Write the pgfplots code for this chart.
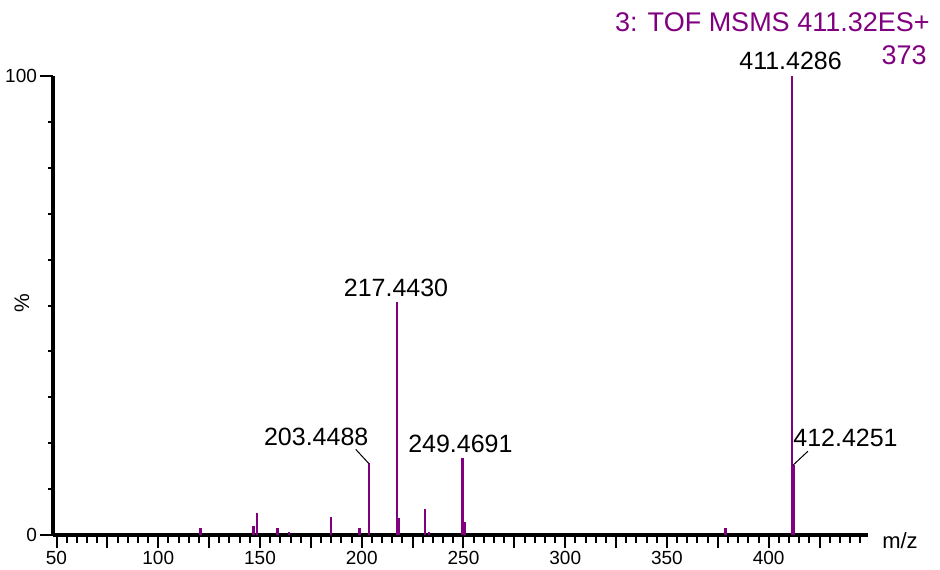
\documentclass[border=0pt]{standalone}
\usepackage{pgfplots}
\pgfplotsset{compat=1.18}
\usepackage{fontspec}
\setmainfont{Liberation Sans}
\definecolor{specpurple}{RGB}{128,0,128}

% MS/MS spectrum: m/z versus relative intensity (%)
\pgfplotstableread{
mz        int
120.7     1.5
146.8     2.0
148.5     4.7
158.6     1.5
164.4     0.7
184.9     3.9
198.9     1.5
203.4488  15.6
217.4430  50.8
218.2     3.6
231.2     5.6
233.0     0.7
249.4691  16.7
250.5     2.8
378.8     1.5
411.4286  100
412.4251  15.2
}\spectrum

\begin{document}
\begin{tikzpicture}[x=1pt,y=1pt]
\useasboundingbox (0,0) rectangle (470,284.5);
\begin{axis}[
  at={(26.5pt,17pt)}, anchor=south west,
  scale only axis, width=407.5pt, height=229.5pt,
  xmin=48.28, xmax=448.8, ymin=0, ymax=100,
  axis x line=bottom, axis y line=left,
  axis line style={-, line width=1.6pt, black},
  tick align=outside,
  tick style={black, line width=1pt},
  major tick length=6.5pt, minor tick length=4pt,
  xtick={50,100,...,400},
  minor xtick={55,60,...,445},
  extra x ticks={75,125,...,425},
  extra x tick labels={},
  ytick={0,100},
  extra y ticks={10,20,...,90},
  extra y tick labels={},
  extra y tick style={major tick length=2.5pt},
  tick label style={font=\fontsize{9.5}{11}\selectfont},
  xticklabel style={yshift=2pt},
  yticklabel style={xshift=2pt},
  /pgf/number format/assume math mode=true,
  clip=false,
]
\addplot[ycomb, mark=none, color=specpurple, line width=1.2pt] table[x=mz, y=int] {\spectrum};

\node[anchor=base, yshift=3.5pt, xshift=-0.7pt, font=\fontsize{12.5}{14}\selectfont]
  at (axis cs:411.4286,100) {411.4286};
\node[anchor=base, yshift=2.9pt, xshift=-0.6pt, font=\fontsize{12.5}{14}\selectfont]
  at (axis cs:217.4430,50.8) {217.4430};
\node[anchor=base, yshift=2.8pt, xshift=-1pt, font=\fontsize{12.5}{14}\selectfont]
  at (axis cs:249.4691,16.7) {249.4691};
\node[anchor=base east, yshift=9.2pt, xshift=0pt, inner sep=0pt, font=\fontsize{12.5}{14}\selectfont]
  at (axis cs:203.4488,15.6) {203.4488};
\draw[black, line width=0.5pt] (axis cs:203.4488,15.6) -- ++(-6.5pt,7pt);
\node[anchor=base west, yshift=9.5pt, xshift=-0.5pt, inner sep=0pt, font=\fontsize{12.5}{14}\selectfont]
  at (axis cs:412.4251,15.2) {412.4251};
\draw[black, line width=0.5pt] (axis cs:411.9,15.2) -- ++(7.5pt,7pt);
\end{axis}

\node[anchor=base east, text=specpurple, font=\fontsize{13.5}{15}\selectfont, inner sep=0pt]
  at (465,268.5) {3: TOF MSMS 411.32ES+};
\node[anchor=base east, text=specpurple, font=\fontsize{13.5}{15}\selectfont, inner sep=0pt]
  at (463.5,252) {373};
\node[font=\fontsize{11}{13}\selectfont] at (450,14) {m/z};
\node[rotate=90, font=\fontsize{10.5}{12}\selectfont] at (11,133) {\%};
\end{tikzpicture}
\end{document}
